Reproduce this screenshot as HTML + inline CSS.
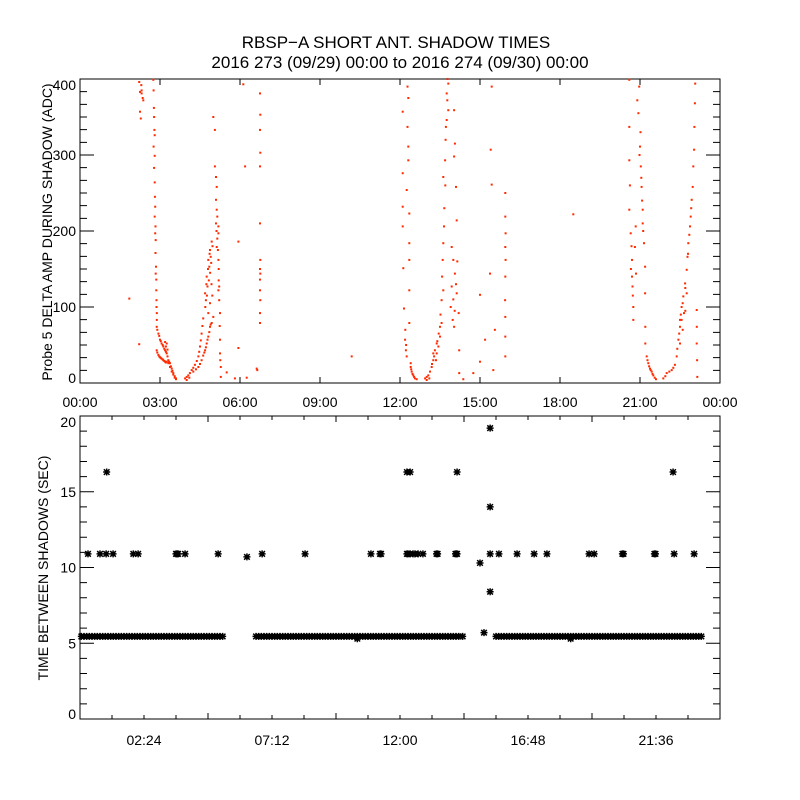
<!DOCTYPE html>
<html><head><meta charset="utf-8"><style>
html,body{margin:0;padding:0;background:#fff}
svg{display:block}
text{font-family:"Liberation Sans",sans-serif;fill:#000}
</style></head><body>
<svg id="chart" width="800" height="800" viewBox="0 0 800 800" xmlns="http://www.w3.org/2000/svg">
<rect width="800" height="800" fill="#fff"/>
<text x="396" y="48" font-size="17" text-anchor="middle">RBSP−A SHORT ANT. SHADOW TIMES</text>
<text x="400" y="68" font-size="17" text-anchor="middle">2016 273 (09/29) 00:00 to 2016 274 (09/30) 00:00</text>
<g id="topPanel"></g>
<g id="botPanel"></g>
<text transform="translate(52,232) rotate(-90)" font-size="14" text-anchor="middle">Probe 5 DELTA AMP DURING SHADOW (ADC)</text>
<text transform="translate(48,568) rotate(-90)" font-size="14" text-anchor="middle">TIME BETWEEN SHADOWS (SEC)</text>
</svg>
<script>
// ---- data (hours of day, ADC) ----
const topYTicks=[0,100,200,300,400];
const topXTickLabels=["00:00","03:00","06:00","09:00","12:00","15:00","18:00","21:00","00:00"];
const botYTicks=[0,5,10,15,20];
const botXTickLabels=["02:24","07:12","12:00","16:48","21:36"];
const pass1=[[2.75,399],[2.76,385],[2.77,362],[2.78,350],[2.79,333],[2.8,326],[2.76,311],[2.8,299],[2.78,283],[2.8,264],[2.81,245],[2.82,232],[2.8,219],[2.83,206],[2.82,197],[2.84,188],[2.83,171],[2.85,153],[2.84,144],[2.86,136],[2.86,122],[2.87,109],[2.87,100],[2.88,92],[2.88,83],
[2.875,74],[2.94,65],[3.0,57],[3.06,52],[3.125,48],[3.19,43],[3.25,39],[3.31,30],[3.375,26],[3.44,19],[3.5,13],[3.6,6],[2.9,70],[2.97,62],[3.03,55],[3.1,50],[3.16,45],[3.22,41],[3.28,35],[3.34,28],[3.41,22],[3.47,16],[3.55,9],
[2.875,43],[2.94,37],[3.0,34],[3.06,32],[3.125,30],[3.19,28],[3.25,28],[3.31,26],[3.375,21],[3.44,15],[3.5,11],[3.55,7],[3.6,5],[2.9,40],[2.97,35],[3.03,33],[3.1,31],[3.16,29],[3.22,27],[3.19,54],[3.25,52],[3.22,48],[3.28,44],
[3.94,6],[4.06,10],[4.19,17],[4.31,24],[4.44,35],[4.5,48],[4.56,65],[4.62,85],[4.0,8],[4.12,13],[4.25,20],[4.38,29],[4.47,41],[4.53,56],[4.59,75],
[4.0,4],[4.1,7],[4.25,15],[4.35,18],[4.44,21],[4.56,30],[4.62,36],[4.69,43],[4.75,52],[4.81,61],[4.875,74],[4.94,79],[5.0,87],[4.5,25],[4.66,40],[4.72,47],[4.78,57],[4.85,67],[4.9,77],
[4.69,118],[4.75,140],[4.81,162],[4.875,175],[4.94,186],[4.78,127],[4.85,153],[4.9,166],[4.72,109],[4.81,92],[4.875,105],[4.7,100],[4.76,115],[4.83,135],[4.88,145],[4.92,158],[4.97,180],[4.74,130],[4.8,150],[4.86,170],[4.93,130],[4.96,115],
[5.0,350],[5.06,333],[5.06,285],[5.1,271],[5.125,258],[5.1,241],[5.125,228],[5.15,219],[5.19,206],[5.19,197],[5.125,179],[5.19,162],[5.19,122],[5.22,109],[5.1,210],[5.15,190],[5.17,175],[5.2,150],[5.2,135],[5.12,200],
[5.22,127],[5.25,92],[5.25,57],[5.25,39],[5.28,21],[5.28,8],[5.24,75],[5.26,30],
[1.85,111],[2.22,51],[2.22,396],[2.25,383],[2.31,385],[2.35,375],[2.31,381],[2.25,357],[2.28,348],[2.375,372],[2.3,392],
[5.5,14],[5.81,6],[5.94,186],[5.94,46],[6.125,393],[6.19,285],[6.25,7],[6.625,19],[6.65,17],
[6.75,381],[6.76,353],[6.75,333],[6.76,303],[6.75,285],[6.75,210],[6.76,162],[6.75,150],[6.76,144],[6.75,136],[6.75,122],[6.76,109],[6.75,92],[6.75,79],[10.19,35]];
const pass2=[[12.28,390],[12.31,375],[12.1,357],[12.28,337],[12.31,311],[12.31,293],[12.1,276],[12.25,254],[12.1,232],[12.35,223],[12.1,206],[12.35,184],[12.125,151],[12.35,162],[12.35,122],[12.15,98],[12.35,79],[12.19,57],[12.22,43],[12.25,35],[12.2,70],[12.23,50],
[12.4,21],[12.44,15],[12.5,10],[12.56,6],[12.625,5],[12.42,18],[12.47,12],[12.53,8],[12.4,26],
[12.94,6],[13.06,10],[13.19,21],[13.25,30],[13.31,43],[13.375,39],[13.44,48],[13.5,61],[13.56,79],[13.56,109],[13.625,122],[13.6,162],[13.625,184],[13.65,206],[13.625,271],[13.69,293],[13.71,320],[13.75,346],[13.775,372],[13.81,394],[13.75,381],[13.81,359],[13.72,337],[13.25,39],[13.125,15],[13.0,8],[13.375,52],[13.5,74],[13.0,4],[13.1,6],[13.2,25],[13.28,35],[13.35,30],[13.4,55],[13.45,65],[13.52,90],[13.58,140],[13.66,230],[13.7,260],[13.78,400],
[14.03,359],[14.06,315],[14.03,298],[14.1,258],[14.125,214],[13.94,179],[14.0,162],[14.06,144],[13.94,127],[14.125,118],[13.9,100],[13.975,83],[14.03,74],[14.2,92],[14.22,43],[14.22,13],[14.0,110],[14.1,130],[14.05,95],[14.15,160],
[14.375,5],[14.75,13],[15.0,28],[15.0,116],[15.19,57],[15.375,144],[15.44,390],[15.4,307],[15.44,261],[15.5,17],[15.56,70],
[15.95,250],[15.95,219],[15.96,197],[15.95,179],[15.96,162],[15.95,140],[15.94,109],[15.95,87],[15.95,61],[15.95,35],[18.5,222]];
const pass3=[[20.6,399],[20.6,337],[20.6,293],[20.6,228],[20.65,197],[20.7,162],[20.72,127],[20.75,100],[20.75,83],[20.81,179],[20.85,144],[20.84,206],[20.62,260],[20.68,180],[20.7,140],[20.73,115],[20.66,150],
[20.97,390],[20.9,372],[20.94,355],[21.0,311],[21.03,285],[21.06,258],[21.1,228],[21.1,210],[21.15,184],[21.19,153],[21.19,118],[21.2,74],[21.2,52],[21.02,330],[21.05,270],[21.08,240],[21.12,200],[20.98,300],
[21.25,35],[21.31,26],[21.375,19],[21.44,15],[21.5,10],[21.6,5],[21.28,30],[21.34,22],[21.4,17],[21.47,12],[21.55,7],
[21.875,6],[22.0,13],[22.19,17],[22.31,24],[22.375,35],[22.44,57],[22.5,83],[22.56,100],[22.625,114],[22.69,131],[22.75,149],[22.78,166],[22.81,184],[22.875,206],[22.9,219],[22.94,241],[22.975,258],[23.0,285],[23.03,307],[23.04,337],[23.06,368],[23.07,394],[22.5,74],[22.56,83],[22.65,92],[22.5,52],[22.75,118],
[21.95,9],[22.1,15],[22.25,20],[22.4,45],[22.47,65],[22.53,90],[22.6,105],[22.7,125],[22.8,170],[22.85,195],[22.92,230],[22.6,70],[22.7,95],
[23.125,96],[23.13,74],[23.125,52],[23.14,30],[23.15,8]];
const bandTimes=[0.05,0.15,0.25,0.35,0.45,0.55,0.65,0.75,0.85,0.95,1.05,1.15,1.25,1.35,1.45,1.55,1.65,1.75,1.85,1.95,2.05,2.15,2.25,2.35,2.45,2.55,2.65,2.75,2.85,2.95,3.05,3.15,3.25,3.35,3.45,3.55,3.65,3.75,3.85,3.95,4.05,4.15,4.25,4.35,4.45,4.55,4.65,4.75,4.85,4.95,5.05,5.15,5.25,5.35,
6.6,6.7,6.8,6.9,7.0,7.1,7.2,7.3,7.4,7.5,7.6,7.7,7.8,7.9,8.0,8.1,8.2,8.3,8.4,8.5,8.6,8.7,8.8,8.9,9.0,9.1,9.2,9.3,9.4,9.5,9.6,9.7,9.8,9.9,10.0,10.1,10.2,10.3,10.4,10.5,10.6,10.7,10.8,10.9,11.0,11.1,11.2,11.3,11.4,11.5,11.6,11.7,11.8,11.9,12.0,12.1,12.2,12.3,12.4,12.5,12.6,12.7,12.8,12.9,13.0,13.1,13.2,13.3,13.4,13.5,13.6,13.7,13.8,13.9,14.0,14.1,14.2,14.35,
15.6,15.7,15.8,15.9,16.0,16.1,16.2,16.3,16.4,16.5,16.6,16.7,16.8,16.9,17.0,17.1,17.2,17.3,17.4,17.5,17.6,17.7,17.8,17.9,18.0,18.1,18.2,18.3,18.4,18.5,18.6,18.7,18.8,18.9,19.0,19.1,19.2,19.3,19.4,19.5,19.6,19.7,19.8,19.9,20.0,20.1,20.2,20.3,20.4,20.5,20.6,20.7,20.8,20.9,21.0,21.1,21.2,21.3,21.4,21.5,21.6,21.7,21.8,21.9,22.0,22.1,22.2,22.3,22.4,22.5,22.6,22.7,22.8,22.9,23.0,23.1,23.2,23.3];
const bandValue=5.45;
const outlierTimes=[0.3,0.75,0.98,1.0,1.24,2.0,2.18,3.6,3.64,3.68,3.94,5.18,6.26,6.83,8.44,10.91,11.25,11.29,12.26,12.3,12.38,12.49,12.56,12.68,12.86,13.37,13.41,14.08,14.12,14.14,12.26,12.38,15.0,15.15,15.38,15.38,15.38,15.38,15.71,16.39,17.03,17.51,19.09,19.28,20.34,20.38,21.54,21.58,22.24,22.28,23.03,10.4,18.4];
const outlierValues=[10.9,10.9,10.9,16.3,10.9,10.9,10.9,10.9,10.9,10.9,10.9,10.9,10.7,10.9,10.9,10.9,10.9,10.9,10.9,10.9,10.9,10.9,10.9,10.9,10.9,10.9,10.9,10.9,10.9,10.9,16.3,16.3,10.3,5.7,19.2,14.0,10.9,8.4,10.9,10.9,10.9,10.9,10.9,10.9,10.9,10.9,10.9,10.9,16.3,10.9,10.9,5.3,5.3];
const topT=[14.14];const topV=[16.3];

// ---- axes ----
const X0=80,X1=720;
const xs=h=>X0+(h/24)*(X1-X0);
const T0=79,T1=383, ysTop=v=>T1-(v/400)*(T1-T0);
const B0=416,B1=719, ysBot=v=>B1-(v/20)*(B1-B0);
const NS="http://www.w3.org/2000/svg";
function mk(tag,parent,attrs){const e=document.createElementNS(NS,tag);for(const k in attrs)e.setAttribute(k,attrs[k]);parent.appendChild(e);return e;}

const topG=document.getElementById('topPanel'), botG=document.getElementById('botPanel');
let f=mk('rect',topG,{x:X0,y:T0,width:X1-X0,height:T1-T0,fill:'none',stroke:'#000','stroke-width':1});


f=mk('rect',botG,{x:X0,y:B0,width:X1-X0,height:B1-B0,fill:'none',stroke:'#000','stroke-width':1});



function tickPath(g,d,name){const p=mk('path',g,{d:d,stroke:'#000','stroke-width':1,fill:'none'});

}

let d='';
for(let i=0;i<=24;i+=3){const x=xs(i);d+=`M${x},${T1}v-6M${x},${T0}v6`;}
for(let k=0;k<=24;k++){const v=k*100/6;const y=ysTop(v);const L=(k%6===0)?14:7;d+=`M${X0},${y}h${L}M${X1},${y}h${-L}`;}
tickPath(topG,d,'top-axis-ticks');
topYTicks.forEach(v=>{const y=Math.min(Math.max(ysTop(v),T0+6),T1-5);const t=mk('text',topG,{x:76,y:y+5,'font-size':14,'text-anchor':'end'});t.textContent=v;

});
topXTickLabels.forEach((s,i)=>{const t=mk('text',topG,{x:xs(i*3),y:407,'font-size':14,'text-anchor':'middle'});t.textContent=s;

});

d='';
for(let i=0;i<=20;i++){const h=i*1.2;const x=xs(h);const L=(i%4===0)?6:4;d+=`M${x},${B1}v${-L}M${x},${B0}v${L}`;}
for(let v=0;v<=20;v++){const y=ysBot(v);const L=(v%5===0)?14:7;d+=`M${X0},${y}h${L}M${X1},${y}h${-L}`;}
tickPath(botG,d,'bottom-axis-ticks');
botYTicks.forEach(v=>{const y=Math.min(Math.max(ysBot(v),B0+6),B1-5);const t=mk('text',botG,{x:76,y:y+5,'font-size':14,'text-anchor':'end'});t.textContent=v;

});
botXTickLabels.forEach((s,i)=>{const t=mk('text',botG,{x:xs(2.4+i*4.8),y:745,'font-size':14,'text-anchor':'middle'});t.textContent=s;

});

const rg=mk('g',topG,{fill:'#ff2a00'});


[pass1,pass2,pass3].forEach(arr=>arr.forEach(([h,v])=>{
 const r=mk('rect',rg,{x:(xs(h)-1).toFixed(1),y:(ysTop(v)-1).toFixed(1),width:2,height:2});
 
 
}));

const ag=mk('g',botG,{stroke:'#000','stroke-width':1.5,fill:'none'});


function star(h,v){const x=xs(h),y=ysBot(v);
 const p=mk('path',ag,{d:`M${x-3.5},${y}h7M${x},${y-3.5}v7M${x-2.8},${y-2.8}l5.6,5.6M${x+2.8},${y-2.8}l-5.6,5.6`});
 
 }
bandTimes.forEach(h=>star(h,bandValue));
outlierTimes.forEach((h,i)=>star(h,outlierValues[i]));
topT.forEach((h,i)=>star(h,topV[i]));
</script>
</body></html>
